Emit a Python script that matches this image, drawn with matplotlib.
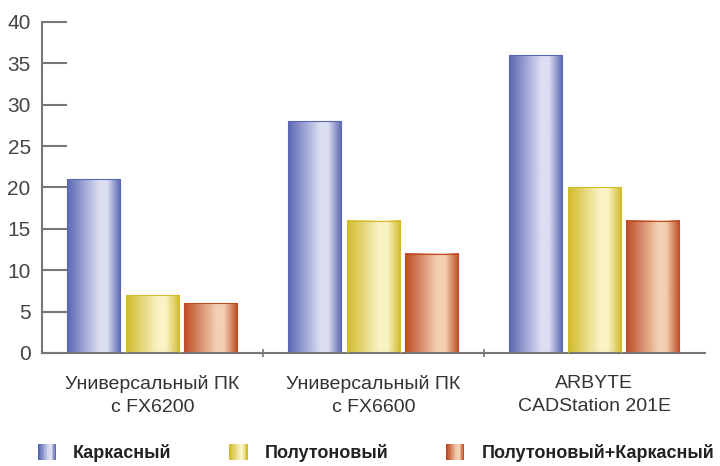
import numpy as np
import matplotlib.pyplot as plt
from matplotlib.colors import LinearSegmentedColormap
from matplotlib.patches import Rectangle
from matplotlib.legend_handler import HandlerBase

groups = ['Универсальный ПК\nс FX6200', 'Универсальный ПК\nс FX6600', 'ARBYTE\nCADStation 201E']
series = ['Каркасный', 'Полутоновый', 'Полутоновый+Каркасный']
karkas = [21, 28, 36]
poluton = [7, 16, 20]
poluton_karkas = [6, 12, 16]
yticks = [0, 5, 10, 15, 20, 25, 30, 35, 40]

# dark edge / light highlight for the cylinder look
shades = [('#5a68b2', '#dcdef2'), ('#d2bb2c', '#faf3c6'), ('#bf4c26', '#f4d0b2')]


def cmap_for(dark, light):
    return LinearSegmentedColormap.from_list('c', [(0, dark), (0.6, light), (0.75, light), (1, dark)])


grad = np.linspace(0, 1, 64).reshape(1, -1)

fig = plt.figure(figsize=(7.2, 4.66), dpi=100)
ax = fig.add_axes([0.058, 0.2425, 0.921, 0.7103])

x = np.arange(len(groups))
pitch = 0.265
width = 0.24
data = [karkas, poluton, poluton_karkas]
for i, vals in enumerate(data):
    cm = cmap_for(*shades[i])
    bars = ax.bar(x + (i - 1) * pitch, vals, width, color='none', zorder=2)
    for b in bars:
        x0, w, h = b.get_x(), b.get_width(), b.get_height()
        ax.imshow(grad, cmap=cm, aspect='auto', extent=(x0, x0 + w, 0, h), zorder=2,
                  interpolation='bicubic')
        ax.add_patch(Rectangle((x0, 0), w, h, fill=False, ec=shades[i][0], lw=0.8, zorder=3))

ax.set_xlim(-0.5, 2.5)
ax.set_ylim(0, 40)
ax.set_yticks(yticks)
ax.set_xticks(x)
ax.set_xticklabels(groups, fontsize=14, color='#333333', family='Liberation Sans', linespacing=1.45)
ax.set_xticks([0.5, 1.5], minor=True)
ax.tick_params(axis='x', which='major', length=0, pad=16)
ax.tick_params(axis='x', which='minor', length=6, direction='inout', color='#777777', width=1.2)
ax.tick_params(axis='y', direction='in', length=18, width=1.5, color='#777777', pad=8,
               labelsize=15, labelcolor='#444444')
for lab in ax.get_yticklabels():
    lab.set_family('Liberation Sans')
for s in ['top', 'right']:
    ax.spines[s].set_visible(False)
for s in ['left', 'bottom']:
    ax.spines[s].set_color('#777777')
    ax.spines[s].set_linewidth(1.5)


class GradHandler(HandlerBase):
    def __init__(self, dark, light):
        super().__init__()
        self.dark, self.light = dark, light

    def create_artists(self, legend, orig, xd, yd, w, h, fontsize, trans):
        cm = cmap_for(self.dark, self.light)
        n = 12
        sh = h * 1.25
        arts = []
        for k in range(n):
            arts.append(Rectangle((xd + k * w / n, yd + h / 2 - sh / 2), w / n, sh,
                                  fc=cm(k / (n - 1)), ec='none', transform=trans))
        return arts


handles = [Rectangle((0, 0), 1, 1) for _ in series]
fig.legend(handles, series, loc='center left', bbox_to_anchor=(38 / 720, 0.028), ncol=3,
           frameon=False, borderpad=0, borderaxespad=0,
           handler_map={h: GradHandler(*shades[i]) for i, h in enumerate(handles)},
           prop={'family': 'Liberation Sans', 'weight': 'bold', 'size': 13},
           handlelength=1.0, handletextpad=0.95, columnspacing=3.2)
for t in fig.legends[0].get_texts():
    t.set_color('#222222')

fig.savefig('out.png', dpi=100)
